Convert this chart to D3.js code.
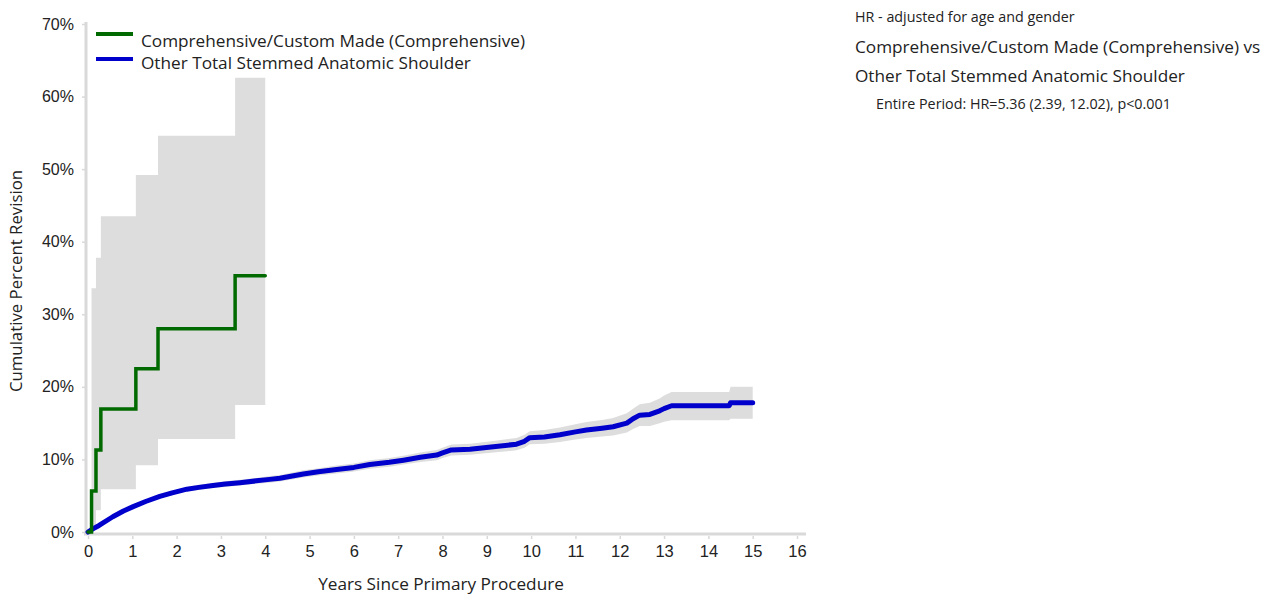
<!DOCTYPE html>
<html>
<head>
<meta charset="utf-8">
<script src="https://cdn.jsdelivr.net/npm/d3@7"></script>
<style>
  body { margin: 0; background: #fff; }
  svg { display: block; font-family: "Open Sans", "Noto Sans", sans-serif; }
</style>
</head>
<body>
<svg id="chart" width="1276" height="598"></svg>
<script>
// ---- data ----
const xTicks = d3.range(0, 17, 1);
const yTicks = [0, 10, 20, 30, 40, 50, 60, 70];
const seriesNames = ["Comprehensive/Custom Made (Comprehensive)", "Other Total Stemmed Anatomic Shoulder"];

// Comprehensive/Custom Made (step function)
const greenYears = [0, 0.08, 0.18, 0.29, 1.08, 1.58, 3.32, 4.0];
const greenPct   = [0, 5.65, 11.3, 16.95, 22.5, 28.0, 35.3, 35.3];
const greenBandYears = [0.08, 0.18, 0.29, 1.08, 1.58, 3.32, 4.0];
const greenLow   = [0.5, 3.0, 5.9, 9.2, 12.8, 17.5, 17.5];
const greenHigh  = [33.6, 37.8, 43.5, 49.2, 54.6, 62.6, 62.6];

// Other Total Stemmed Anatomic Shoulder
const blueYears = [0, 0.1, 0.25, 0.56, 0.8, 1.02, 1.3, 1.62, 1.9, 2.23, 2.5, 2.82, 3.1, 3.43, 3.8, 4.1, 4.33, 4.86, 5.2, 5.61, 6.0, 6.36, 6.8, 7.12, 7.5, 7.87, 8.0, 8.2, 8.62, 9.15, 9.67, 9.85, 9.97, 10.3, 10.65, 11.0, 11.25, 11.6, 11.85, 12.16, 12.3, 12.45, 12.68, 12.9, 13.0, 13.17, 14.47, 14.5, 15.0];
const bluePct   = [0, 0.4, 0.9, 2.1, 2.9, 3.5, 4.2, 4.9, 5.4, 5.9, 6.15, 6.4, 6.6, 6.8, 7.05, 7.25, 7.4, 8.0, 8.3, 8.6, 8.9, 9.3, 9.6, 9.9, 10.3, 10.6, 10.9, 11.3, 11.4, 11.75, 12.1, 12.5, 13.0, 13.1, 13.4, 13.8, 14.05, 14.3, 14.5, 15.0, 15.6, 16.1, 16.2, 16.7, 17.0, 17.4, 17.4, 17.8, 17.8];
const blueLow   = [0, 0.3, 0.75, 1.9, 2.65, 3.25, 3.95, 4.6, 5.1, 5.6, 5.8, 6.05, 6.2, 6.4, 6.65, 6.8, 6.95, 7.5, 7.8, 8.05, 8.35, 8.7, 9.0, 9.3, 9.65, 9.9, 10.2, 10.55, 10.65, 10.95, 11.25, 11.6, 12.1, 12.15, 12.4, 12.75, 12.95, 13.15, 13.3, 13.7, 14.2, 14.6, 14.6, 15.0, 15.2, 15.4, 15.4, 15.6, 15.6];
const blueHigh  = [0.1, 0.5, 1.05, 2.3, 3.15, 3.75, 4.45, 5.2, 5.7, 6.2, 6.5, 6.75, 7.0, 7.2, 7.45, 7.7, 7.85, 8.5, 8.8, 9.15, 9.45, 9.9, 10.2, 10.5, 10.95, 11.3, 11.6, 12.05, 12.15, 12.55, 12.95, 13.4, 13.9, 14.05, 14.4, 14.85, 15.15, 15.45, 15.7, 16.35, 17.0, 17.6, 17.8, 18.4, 18.8, 19.3, 19.3, 20.0, 20.0];

const noteLines = ["HR - adjusted for age and gender",
  "Comprehensive/Custom Made (Comprehensive) vs",
  "Other Total Stemmed Anatomic Shoulder",
  "Entire Period: HR=5.36 (2.39, 12.02), p<0.001"];

// ---- drawing ----
const svg = d3.select("#chart");
const x = d3.scaleLinear().domain([0, 16]).range([88, 797]);
const y = d3.scaleLinear().domain([0, 70]).range([532, 24]);
const bandColor = "#dddddd", axisColor = "#d9d9d9", textColor = "#222";
const greenColor = "#006a00", blueColor = "#0000cc";

// bands
const area = d3.area().x(d => x(d.t)).y0(d => y(d.lo)).y1(d => y(d.hi));
const greenBand = greenBandYears.map((t, i) => ({t, lo: greenLow[i], hi: greenHigh[i]}));
const blueBand = blueYears.map((t, i) => ({t, lo: blueLow[i], hi: blueHigh[i]}));
svg.append("path").datum(greenBand).attr("fill", bandColor)
  .attr("d", area.curve(d3.curveStepAfter));
svg.append("path").datum(blueBand).attr("fill", bandColor)
  .attr("d", d3.area().x(d => x(d.t)).y0(d => y(d.lo)).y1(d => y(d.hi))(blueBand));

// axes
const xAxis = d3.axisBottom(x).tickValues(xTicks).tickFormat(d3.format("d")).tickSize(5).tickPadding(6);
const gx = svg.append("g").attr("transform", "translate(0,534)").call(xAxis);
gx.select(".domain").attr("d", "M84,0H806").attr("stroke", axisColor).attr("stroke-width", 3);
gx.selectAll(".tick line").attr("stroke", axisColor).attr("stroke-width", 1.5).attr("y1", 2);
gx.selectAll(".tick text").attr("fill", textColor).attr("font-size", 16.5);

const yAxis = d3.axisLeft(y).tickValues(yTicks).tickFormat(d => d + "%").tickSize(4).tickPadding(8);
const gy = svg.append("g").attr("transform", "translate(86,0)").call(yAxis);
gy.select(".domain").attr("d", "M0,22V535").attr("stroke", axisColor).attr("stroke-width", 3);
gy.selectAll(".tick line").attr("stroke", axisColor).attr("stroke-width", 1.5);
gy.selectAll(".tick text").attr("fill", textColor).attr("font-size", 16);

svg.append("text").attr("x", 441).attr("y", 590).attr("text-anchor", "middle")
  .attr("font-size", 17.2).attr("fill", textColor).text("Years Since Primary Procedure");
svg.append("text").attr("transform", "translate(22,281) rotate(-90)").attr("text-anchor", "middle")
  .attr("font-size", 16.8).attr("fill", textColor).text("Cumulative Percent Revision");

// lines
const line = d3.line().x(d => x(d.t)).y(d => y(d.v));
svg.append("path").datum(blueYears.map((t, i) => ({t, v: bluePct[i]})))
  .attr("fill", "none").attr("stroke", blueColor).attr("stroke-width", 5)
  .attr("stroke-linejoin", "round").attr("stroke-linecap", "round").attr("d", line);
svg.append("path").datum(greenYears.map((t, i) => ({t, v: greenPct[i]})))
  .attr("fill", "none").attr("stroke", greenColor).attr("stroke-width", 3.5)
  .attr("stroke-linecap", "round")
  .attr("d", d3.line().x(d => x(d.t)).y(d => y(d.v)).curve(d3.curveStepAfter));

// legend
const legend = svg.append("g");
const legendLineY = [34, 59], legendTextY = [47, 69];
[greenColor, blueColor].forEach((c, i) => {
  legend.append("line").attr("x1", 96).attr("x2", 133).attr("y1", legendLineY[i]).attr("y2", legendLineY[i])
    .attr("stroke", c).attr("stroke-width", 4);
  legend.append("text").attr("x", 141).attr("y", legendTextY[i]).attr("font-size", 17.2)
    .attr("fill", textColor).text(seriesNames[i]);
});

// annotation
const note = svg.append("g").attr("fill", textColor);
note.append("text").attr("x", 855).attr("y", 22).attr("font-size", 14.3).text(noteLines[0]);
note.append("text").attr("x", 855).attr("y", 53).attr("font-size", 17.2).text(noteLines[1]);
note.append("text").attr("x", 855).attr("y", 82).attr("font-size", 17.2).text(noteLines[2]);
note.append("text").attr("x", 876).attr("y", 109).attr("font-size", 14.3).text(noteLines[3]);
</script>
</body>
</html>
